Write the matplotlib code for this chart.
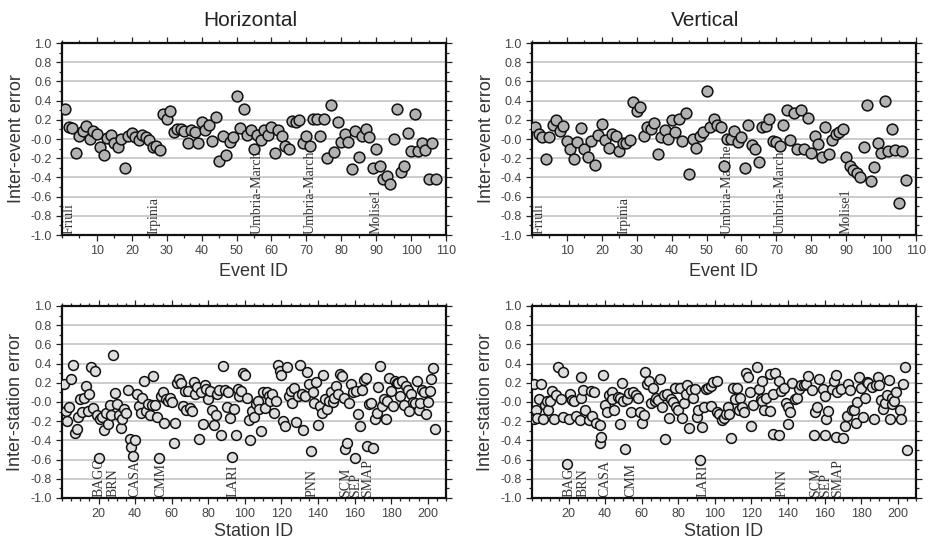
import numpy as np
import matplotlib
matplotlib.use("Agg")
import matplotlib.pyplot as plt
from matplotlib.ticker import MultipleLocator, FixedLocator

plt.rcParams['font.family'] = ['Liberation Sans', 'DejaVu Sans']

# ---------------- data ----------------
event_h = [0.31, 0.12, 0.11, -0.15, 0.035, 0.08, 0.14, 0.0, 0.08, 0.05,
           -0.08, -0.17, 0.01, 0.045, -0.045, -0.08, 0.0, -0.30, 0.035, 0.06,
           0.02, -0.015, 0.04, 0.02, -0.015, -0.08, -0.07, -0.11, 0.26, 0.21,
           0.29, 0.07, 0.10, 0.10, 0.08, -0.045, 0.09, 0.07, -0.045, 0.18,
           0.09, 0.15, -0.025, 0.23, -0.23, 0.035, -0.17, -0.03, 0.02, 0.45,
           0.115, 0.31, 0.045, 0.09, -0.105, 0.04, -0.01, 0.09, 0.04, 0.12,
           -0.145, 0.09, 0.035, -0.07, -0.105, 0.185, 0.175, 0.20, -0.04, 0.03,
           -0.07, 0.21, 0.21, 0.035, 0.21, -0.20, 0.35, -0.14, 0.18, -0.03,
           0.05, -0.03, -0.315, 0.08, -0.19, 0.03, 0.10, 0.02, -0.30, -0.105,
           -0.28, -0.42, -0.39, -0.47, 0.0, 0.31, -0.34, -0.28, 0.065, -0.13,
           0.26, -0.125, -0.045, -0.115, -0.415, -0.045, -0.415]

event_v = [0.13, 0.05, 0.02, -0.21, 0.025, 0.15, 0.20, 0.08, 0.135, -0.02,
           -0.105, -0.21, -0.03, 0.11, -0.105, -0.185, -0.02, -0.27, 0.04, 0.16,
           -0.01, -0.09, 0.05, 0.03, -0.13, -0.045, -0.04, -0.01, 0.39, 0.29,
           0.33, 0.035, 0.13, 0.105, 0.17, -0.16, 0.025, 0.09, -0.005, 0.20,
           0.075, 0.205, -0.02, 0.275, -0.36, 0.005, -0.09, 0.035, 0.075, 0.50,
           0.12, 0.205, 0.15, 0.13, -0.28, 0.0, 0.0, 0.085, -0.03, 0.025,
           -0.30, 0.15, -0.065, -0.10, -0.24, 0.13, 0.135, 0.205, -0.02, -0.035,
           -0.075, 0.15, 0.30, -0.01, 0.27, -0.105, 0.30, -0.10, 0.215, -0.145,
           0.03, -0.05, -0.19, 0.12, -0.155, -0.01, 0.05, 0.075, 0.105, -0.19,
           -0.28, -0.32, -0.35, -0.40, -0.08, 0.355, -0.435, -0.29, -0.045, -0.145,
           0.40, -0.12, 0.10, -0.11, -0.67, -0.13, -0.43]

station_h = [0.19, -0.09, -0.20, -0.05, 0.235, 0.39, -0.32, -0.285, -0.155, 0.03,
             -0.10, 0.04, 0.17, -0.095, 0.08, 0.365, -0.065, 0.32, -0.135, -0.58,
             -0.18, -0.155, -0.29, -0.11, -0.225, -0.035, -0.14, 0.49, 0.095, -0.02,
             -0.14, -0.275, -0.18, -0.075, -0.11, 0.12, -0.39, -0.47, -0.56, -0.40,
             0.085, -0.04, -0.11, 0.04, 0.22, -0.095, -0.025, -0.135, -0.03, 0.27,
             -0.03, -0.155, -0.58, 0.06, 0.10, -0.215, 0.035, 0.015, 0.04, 0.0,
             -0.425, -0.215, 0.20, 0.235, 0.20, -0.04, 0.115, -0.085, 0.11, -0.06,
             -0.095, 0.21, 0.08, 0.155, -0.39, 0.10, -0.225, 0.175, 0.14, 0.03,
             0.115, -0.085, -0.235, -0.135, 0.085, 0.13, -0.345, 0.375, 0.12, -0.05,
             0.10, -0.17, -0.57, -0.07, -0.34, 0.14, 0.06, 0.11, 0.305, 0.28,
             0.04, -0.19, -0.395, -0.095, -0.155, -0.025, 0.01, -0.075, -0.30, 0.10,
             -0.06, 0.10, 0.06, 0.015, 0.08, -0.11, 0.01, 0.385, 0.32, 0.28,
             -0.20, -0.25, 0.365, 0.06, 0.115, -0.015, 0.15, -0.205, 0.06, 0.385,
             0.08, -0.295, 0.06, 0.315, 0.19, -0.51, 0.10, -0.015, 0.21, -0.24,
             -0.04, -0.11, 0.28, 0.03, -0.075, 0.015, 0.10, -0.005, 0.04, 0.165,
             0.08, 0.29, 0.27, 0.045, -0.49, -0.425, -0.015, 0.19, 0.10, -0.58,
             0.11, -0.12, -0.245, 0.12, 0.225, 0.255, -0.46, -0.025, -0.015, -0.475,
             -0.18, -0.11, 0.155, 0.375, -0.04, 0.03, -0.175, 0.01, 0.255, 0.115,
             -0.04, 0.22, 0.20, 0.20, 0.06, 0.22, -0.03, 0.165, 0.12, -0.095,
             0.085, 0.005, -0.015, 0.22, -0.085, -0.015, 0.13, 0.10, -0.13, -0.005,
             0.115, 0.235, 0.35, -0.285]

station_v_id = [1, 1, 2, 3, 4, 5, 6, 7, 8, 9, 10, 11, 12, 13, 14, 16, 17, 17, 19, 20,
                21, 22, 23, 24, 26, 27, 27, 28, 29, 31, 32, 33, 34, 35, 37, 37, 38, 39, 40, 41,
                42, 44, 44, 45, 47, 48, 48, 49, 50, 51, 52, 53, 54, 55, 57, 58, 59, 60, 61, 62,
                63, 64, 65, 66, 67, 68, 69, 70, 71, 72, 73, 74, 75, 76, 77, 78, 79, 80, 81, 82,
                83, 84, 85, 86, 87, 88, 89, 90, 91, 92, 93, 94, 95,
                96, 98, 98, 99, 101, 101, 102, 104, 105, 106, 107, 108, 109, 110, 111, 112, 113,
                114, 115, 116, 117, 118, 119, 120, 121, 123, 124, 125, 126, 126, 127, 128, 130,
                130, 132, 132, 133, 135, 135, 136, 138, 139, 140, 140, 141, 142, 144, 145, 146,
                147, 149, 150, 151, 153, 154, 155, 156, 157, 159, 160, 160, 161, 162, 164, 165,
                166, 166, 167, 169, 170, 171, 172, 173, 174, 175, 176, 177, 178, 179, 180, 181,
                182, 183, 184, 186, 187, 188, 189, 190, 191, 192, 193, 194, 195, 196, 197, 197,
                198, 199, 201, 202, 203, 204, 205]
station_v = [0.185, -0.175, -0.08, -0.165, 0.035, 0.185, -0.175, -0.035, 0.015, -0.085,
             0.015, 0.11, -0.175, 0.07, 0.36, 0.035, 0.31, -0.155, -0.65, -0.175,
             0.085, 0.025, 0.015, -0.15, -0.19, 0.26, 0.045, 0.12, -0.085, -0.19,
             0.115, -0.15, 0.105, -0.22, -0.235, -0.43, -0.365, 0.28, -0.03, -0.105,
             0.07, 0.105, 0.035, -0.085, 0.05, -0.225, 0.045, 0.20, 0.015, -0.485,
             0.035, 0.095, -0.105, 0.105, 0.07, 0.045, -0.105, -0.22, -0.14, 0.31,
             0.19, 0.22, -0.01, 0.15, 0.01, 0.045, 0.025, 0.235, -0.05, 0.07,
             -0.39, 0.085, -0.165, 0.035, 0.0, 0.15, -0.05, -0.085, 0.15, -0.165,
             -0.015, 0.085, 0.175, -0.27, 0.13, 0.045, 0.14, -0.155, -0.085, -0.60,
             -0.26, -0.05, 0.14,
             0.15, -0.045, 0.165, 0.21, 0.22, -0.105, -0.13, -0.19, -0.165, -0.12,
             -0.05, -0.13, -0.37, 0.15, 0.035, 0.15, -0.085, 0.045, -0.05, -0.105,
             0.30, 0.26, 0.105, -0.245, -0.035, 0.36, 0.14, 0.035, 0.015, 0.22,
             -0.08, 0.045, -0.095, 0.295, -0.33, 0.085, 0.30, 0.22, -0.345, 0.115,
             0.15, -0.01, -0.225, -0.05, -0.105, 0.20, 0.035, 0.045, 0.14, 0.175,
             0.175, 0.19, 0.27, 0.12, -0.345, -0.105, -0.05, 0.235, 0.14, 0.06,
             -0.345, -0.175, -0.095, 0.14, 0.22, 0.28, -0.36, 0.105, 0.14, -0.38,
             -0.245, -0.15, 0.19, 0.13, -0.08, -0.085, -0.22, 0.0, 0.26, 0.15,
             -0.155, 0.045, 0.21, 0.20, 0.155, -0.175, 0.175, 0.26, 0.175, 0.025,
             -0.07, -0.015, 0.07, 0.225, -0.175, -0.025, 0.045, 0.01, 0.105, -0.085,
             -0.175, 0.185, 0.365, -0.505]

event_labels = ["Friuli", "Irpinia", "Umbria-Marche", "Umbria-Marche", "Molise1"]
event_label_pos = [2, 26.3, 56, 71, 90]
station_labels = ["BAGO", "BRN", "CASA", "CMM", "LARI", "PNN", "SCM", "SEP", "SMAP"]
station_label_pos = [20, 28, 40, 54, 93.5, 137, 155, 160.5, 167]

titles = ["Horizontal", "Vertical"]

# ---------------- figure ----------------
W, H = 929, 543
fig = plt.figure(figsize=(W / 100, H / 100), dpi=100)


def ax_rect(left, right, top, bottom):
    return [left / W, 1 - bottom / H, (right - left) / W, (bottom - top) / H]


tick_col = '#444444'
serif = ['Liberation Serif', 'DejaVu Serif']


def style(ax, xmax, xminor, xticks):
    ax.set_ylim(-1.0, 1.0)
    ax.set_xlim(0, xmax)
    ax.yaxis.set_major_locator(FixedLocator(np.round(np.arange(-1.0, 1.01, 0.2), 2)))
    ax.yaxis.set_minor_locator(MultipleLocator(0.1))
    ax.xaxis.set_major_locator(FixedLocator(xticks))
    ax.xaxis.set_minor_locator(MultipleLocator(xminor))
    ax.yaxis.set_major_formatter(matplotlib.ticker.FormatStrFormatter('%.1f'))
    for g in np.arange(-0.8, 0.81, 0.2):
        ax.axhline(g, color='#c4c4c4', lw=1.2, zorder=0)
    for s in ax.spines.values():
        s.set_linewidth(1.6)
        s.set_color('#111111')
    ax.tick_params(which='both', direction='out', top=True, right=True,
                   labelsize=9, labelcolor=tick_col, colors='#222222', width=0.9)
    ax.tick_params(which='major', length=4)
    ax.tick_params(which='minor', length=2)
    ax.tick_params(axis='x', which='major', pad=3)


lefts = [(62, 446), (532, 916)]
top_row = (43, 235)
bot_row = (306, 498)
AX_H = 192.0

event_data = [event_h, event_v]
for i in range(2):
    l, r = lefts[i]
    ax = fig.add_axes(ax_rect(l, r, *top_row))
    y = event_data[i]
    x = np.arange(1, len(y) + 1)
    ax.scatter(x, y, s=60, facecolor='#b2b2b2', edgecolor='#111111', linewidths=1.1, zorder=3)
    style(ax, 110, 5, list(range(10, 111, 10)))
    ax.set_xlabel("Event ID", fontsize=13, color='#333333', va='center')
    ax.xaxis.set_label_coords(0.5, -(271 - 235) / AX_H)
    ax.set_ylabel("Inter-event error", fontsize=13, color='#333333', va='center')
    ax.yaxis.set_label_coords(-(62 - 17) / 384.0, 0.5)
    for lab, pos in zip(event_labels, event_label_pos):
        ax.text(pos, -0.985, lab, rotation=90, ha='center', va='bottom',
                fontsize=10, family=serif, color='#333333', zorder=2)

# bottom row
for i in range(2):
    l, r = lefts[i]
    ax = fig.add_axes(ax_rect(l, r, *bot_row))
    if i == 0:
        y = station_h
        x = np.arange(1, len(y) + 1)
    else:
        y = station_v
        x = station_v_id
    ax.scatter(x, y, s=50, facecolor='#dedede', edgecolor='#111111', linewidths=1.1, zorder=3)
    style(ax, 210, 5, list(range(20, 201, 20)))
    ax.set_xlabel("Station ID", fontsize=13, color='#333333', va='center')
    ax.xaxis.set_label_coords(0.5, -(531 - 498) / AX_H)
    ax.set_ylabel("Inter-station error", fontsize=13, color='#333333', va='center')
    ax.yaxis.set_label_coords(-(62 - 16) / 384.0, 0.5)
    for lab, pos in zip(station_labels, station_label_pos):
        ax.text(pos, -0.985, lab, rotation=90, ha='center', va='bottom',
                fontsize=10, family=serif, color='#333333', zorder=2)

fig.text(250 / W, 1 - 21 / H, titles[0], ha='center', va='center', fontsize=15, color='#222222')
fig.text(705 / W, 1 - 21 / H, titles[1], ha='center', va='center', fontsize=15, color='#222222')

fig.savefig("out.png", dpi=100)
